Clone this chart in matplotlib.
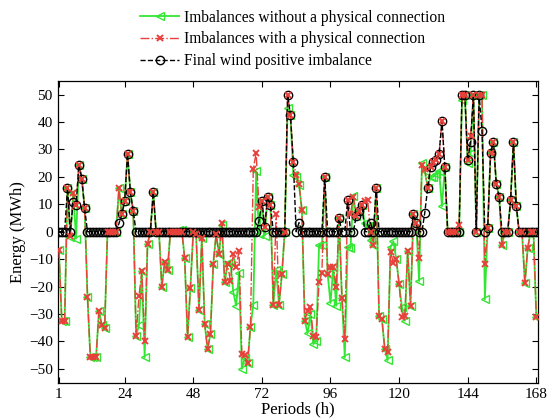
import numpy as np
import matplotlib
matplotlib.use("Agg")
import matplotlib.pyplot as plt
from matplotlib.lines import Line2D

hours = np.arange(1, 169)

without_conn = [
    -6.5, -32.5, -32.5, 16, -2, 14, -2.5, 24.5, 19.4, 8.5,
    -23.8, -45.8, -45.8, -45.8, -29, -34, -35, 0, 0, 0,
    0, 15.8, 6.3, 11.2, 28.5, 14.4, 7.5, -38, -34, -14.5,
    -45.8, -4.5, 0, 14.4, 0, 0, -20, -11, -14, 0,
    0, 0, 0.5, 0.5, -9.7, -38.3, -20.4, 0, -1, -28.6,
    -2.2, -33.7, -42.8, -37.3, -11.6, -1, -8.2, 2.4, -18.5, -11.5,
    -11, -22, -27, -15, -50, -46, -48, -34.8, -26.7, 22,
    -1, 11.2, -1.5, 12.6, 9.7, -26.7, -14, -26.7, -15.5, 0,
    45, 42.4, 20.5, 20, 17, 8, -32.5, -37, -30, -41,
    -40, -5, -5, 20, -15.3, -26, -13, -27, 5, -24,
    -45.8, -5.5, -6, 13, 5.7, 7.4, 9.8, 3, 2, -3,
    -4.7, 16, -30.7, -32, -42.8, -46.8, -5.7, -3.5, -10, -19,
    -27.6, -32.5, -7, -27, 6.3, 3, -18, 25, 22, 16,
    20, 20, 21, 22, 9.3, 23.5, 0, 0, 0, 0,
    0, 48, 50, 25, 28.7, 50, 0, 50, 50, -24.6,
    1.5, 28.7, 32.7, 17.5, 12.7, -4.8, 0, 0, 11.4, 32.7,
    9.5, 0, 0, -18.8, -6, 0, 0, -31,
]

with_conn = [
    -6.5, -32.5, -32.5, 16, -1.5, 14, 9.7, 24.5, 19.4, 8.5,
    -23.8, -45.8, -45.8, -45.8, -29, -34, -35, 0, 0, 0,
    0, 15.8, 6.3, 11.2, 28.5, 14.4, 7.5, -38, -23.5, -14.5,
    -40, -4.5, 0, 14.4, 0, 0, -20, -11, -14, 0,
    0, 0, 0, 0, -9.7, -38.3, -20.4, 0, -1, -28.6,
    -2.2, -33.7, -42.8, -37.3, -11.6, -1, -8.2, 3, -18.5, -11.8,
    -18, -8, -13, -7, -44.6, -45, -48, -34.8, 23, 28.7,
    9, 11.2, 1.8, 12.6, 9.7, -26.7, 6.5, -26.7, -15.5, 0,
    50, 42.4, 25.3, 20.8, 17.5, 8, -32.5, -28.8, -27.6, -38,
    -38.3, -18.5, -15, 20, -15.3, -13, -13, -20, 5, -24,
    -39, 11.4, 6.5, 12.6, 5.7, 7.4, 9.8, 11.3, 11.6, 0,
    -4.7, 16, -30.7, -32, -42.8, -44, -7.3, -11.3, -10, -19,
    -31, -30.7, -7, -27, 6.3, 3, -9.5, 24.5, 22.7, 16,
    23.5, 25.5, 26.3, 28.4, 40.5, 23.5, 0, 0, 0, 0,
    2.4, 50, 50, 26, 35, 50, 0, 50, 50, -11.9,
    1.5, 28.7, 32.7, 17.5, 12.7, -4.8, 0, 0, 11.4, 32.7,
    9.3, 0, 0, -18.8, -6, 0, 0, -31,
]

final_positive = [
    0, 0, 0, 16, 0, 11, 9.7, 24.5, 19.4, 8.5,
    0, 0, 0, 0, 0, 0, 0, 0, 0, 0,
    0, 3, 6.3, 11.2, 28.5, 14.4, 7.5, 0, 0, 0,
    0, 0, 0, 14.4, 0, 0, 0, 0, 0, 0,
    0, 0, 0, 0, 0, 0, 0, 0, 0, 0,
    0, 0, 0, 0, 0, 0, 0, 0, 0, 0,
    0, 0, 0, 0, 0, 0, 0, 0, 0, 0,
    3.9, 11.2, 1.8, 12.6, 9.7, 0, 0, 0, 0, 0,
    50, 42.4, 25.3, 0, 3.3, 0, 0, 0, 0, 0,
    0, 0, 0, 20, 0, 0, 0, 0, 5, 0,
    0, 11.4, 0, 0, 5.7, 7.4, 9.8, 0, 0, 3.3,
    0, 16, 0, 0, 0, 0, 0, 0, 0, 0,
    0, 0, 0, 0, 6.3, 3, 0, 0, 7, 16,
    23.5, 25.5, 26.3, 28.4, 40.5, 23.5, 0, 0, 0, 0,
    0, 50, 50, 26, 32.7, 50, 0, 50, 36.8, 0,
    1.5, 28.7, 32.7, 17.5, 12.7, 0, 0, 0, 11.4, 32.7,
    9.3, 0, 0, 0, 0, 0, 0, 0,
]

x_ticks = [1, 24, 48, 72, 96, 120, 144, 168]
y_ticks = [-50, -40, -30, -20, -10, 0, 10, 20, 30, 40, 50]

labels = ["Imbalances without a physical connection",
          "Imbalances with a physical connection",
          "Final wind positive imbalance"]

plt.rcParams['font.family'] = ['Liberation Serif', 'DejaVu Serif']

GREEN = '#33e633'
RED = '#e8403a'

fig = plt.figure(figsize=(5.49, 4.19), dpi=100)
ax = fig.add_axes([0.106, 0.087, 0.874, 0.72])

ax.plot(hours, without_conn, '-', color=GREEN, lw=1.3, marker='<',
        mfc='none', mec=GREEN, ms=6, mew=1.0, zorder=2)
ax.plot(hours, with_conn, '-.', color=RED, lw=1.0, zorder=3)
ax.plot(hours, final_positive, '--', color='black', lw=1.0, marker='o',
        mfc='none', mec='black', ms=6, mew=1.0, zorder=4)
ax.plot(hours, with_conn, ls='none', marker='x', color=RED, ms=4.5,
        mew=1.4, zorder=5)

ax.set_xlim(0.75, 168.6)
ax.set_ylim(-55, 55)
ax.set_xticks(x_ticks)
ax.set_yticks(y_ticks)
ax.tick_params(direction='in', top=True, right=True, length=4, width=0.8,
               labelsize=11, pad=4)
for s in ax.spines.values():
    s.set_linewidth(0.9)
ax.set_xlabel("Periods (h)", fontsize=12, labelpad=0)
ax.set_ylabel("Energy (MWh)", fontsize=12, labelpad=2)

handles = [
    Line2D([], [], color=GREEN, lw=1.3, marker='<', mfc='none', mec=GREEN, ms=6),
    Line2D([], [], color=RED, lw=1.0, ls='-.', marker='x', ms=4.5, mew=1.4),
    Line2D([], [], color='black', lw=1.0, ls='--', marker='o', mfc='none', ms=6),
]
fig.legend(handles, labels, loc='upper left', bbox_to_anchor=(0.244, 0.992),
           frameon=False, fontsize=11.2, handlelength=2.5, handletextpad=0.3,
           labelspacing=0.38, borderaxespad=0.0)

fig.savefig("out.png", dpi=100)
